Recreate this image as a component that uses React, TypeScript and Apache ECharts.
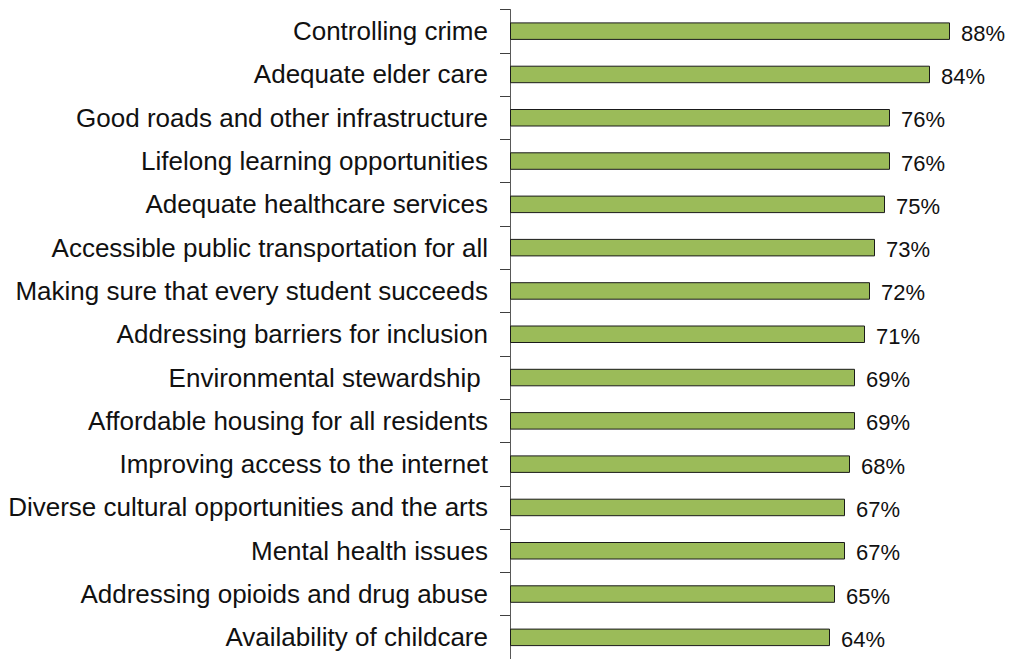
import React, { useEffect, useRef } from "react";
import * as echarts from "echarts";

const categories: string[] = [
  "Controlling crime",
  "Adequate elder care",
  "Good roads and other infrastructure",
  "Lifelong learning opportunities",
  "Adequate healthcare services",
  "Accessible public transportation for all",
  "Making sure that every student succeeds",
  "Addressing barriers for inclusion",
  "Environmental stewardship ",
  "Affordable housing for all residents",
  "Improving access to the internet",
  "Diverse cultural opportunities and the arts",
  "Mental health issues",
  "Addressing opioids and drug abuse",
  "Availability of childcare",
];

const values: number[] = [88, 84, 76, 76, 75, 73, 72, 71, 69, 69, 68, 67, 67, 65, 64];

export default function App() {
  const ref = useRef<HTMLDivElement>(null);
  useEffect(() => {
    if (!ref.current) return;
    const chart = echarts.init(ref.current, undefined, { renderer: "svg" });
    chart.setOption({
      animation: false,
      backgroundColor: "#ffffff",
      grid: { left: 510, top: 9.5, width: 500, height: 654, containLabel: false },
      xAxis: {
        type: "value",
        min: 0,
        max: 100,
        show: false,
      },
      yAxis: {
        type: "category",
        data: categories,
        inverse: true,
        axisLine: { show: true, lineStyle: { color: "#595959", width: 1 } },
        axisTick: { show: true, length: 10, lineStyle: { color: "#404040", width: 1 } },
        axisLabel: {
          margin: 22,
          fontSize: 26,
          color: "#111111",
          fontFamily: "Liberation Sans, Arial, sans-serif",
        },
        splitLine: { show: false },
      },
      series: [
        {
          type: "bar",
          data: values,
          barWidth: 17.5,
          itemStyle: { color: "#9BBB59", borderColor: "#1a1a1a", borderWidth: 1 },
          label: {
            show: true,
            position: "right",
            distance: 11,
            offset: [0, 2],
            formatter: "{c}%",
            fontSize: 22,
            color: "#111111",
            fontFamily: "Liberation Sans, Arial, sans-serif",
          },
        },
      ],
    });
    return () => chart.dispose();
  }, []);
  return (
    <div
      ref={ref}
      style={{ position: "fixed", left: 0, top: 0, width: 1011, height: 659, background: "#fff" }}
    />
  );
}
